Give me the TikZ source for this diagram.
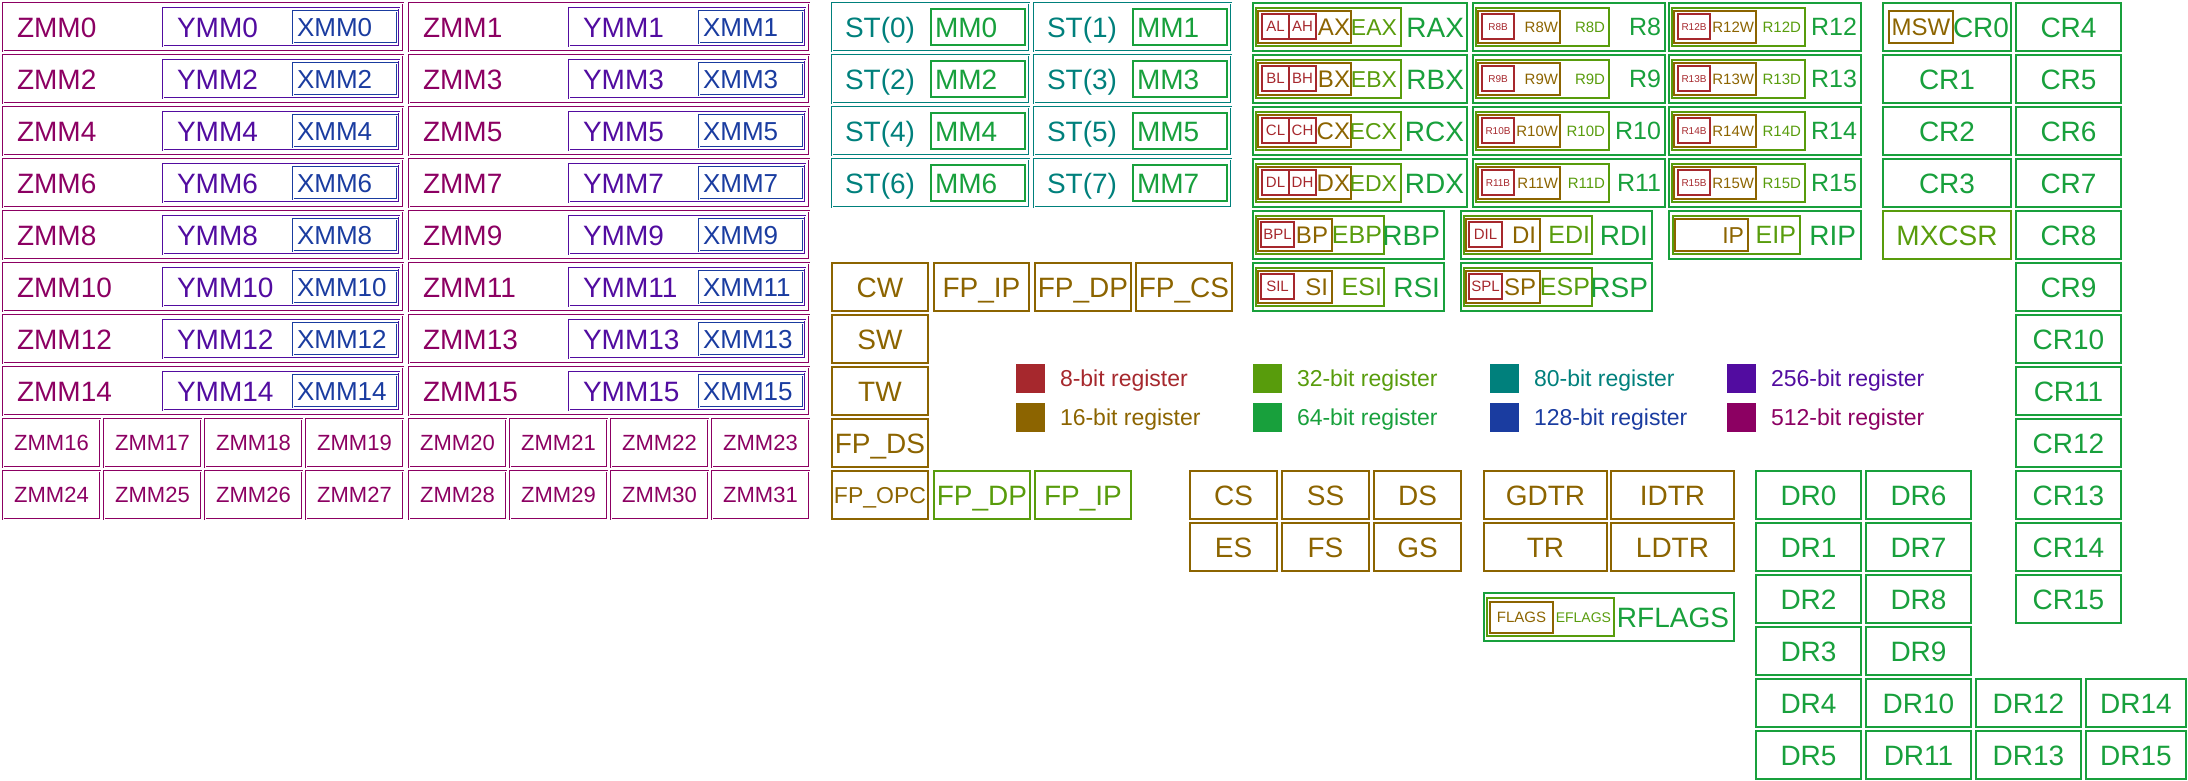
\documentclass[tikz,border=0pt]{standalone}
\usepackage{fontspec}
\setmainfont{Liberation Sans}
\definecolor{c8}{RGB}{166,40,45}
\definecolor{c16}{RGB}{140,100,0}
\definecolor{c32}{RGB}{88,156,12}
\definecolor{c64}{RGB}{24,160,60}
\definecolor{c80}{RGB}{0,128,124}
\definecolor{c128}{RGB}{26,60,160}
\definecolor{c256}{RGB}{82,12,160}
\definecolor{c512}{RGB}{140,0,98}
\newcommand\bx[7]{\node[rb,minimum width={(#4)-(#2)},minimum height={(#5)-(#3)},#6] (#1) at ({((#2)+(#4))/2},{((#3)+(#5))/2}) {#7};}
\begin{document}
\begin{tikzpicture}[x=1pt,y=-1pt,
  rb/.style={rectangle,draw,line width=1.4pt,inner sep=0pt,outer sep=0pt},
  dbl/.style={line width=1.05pt,double=white,double distance=0.8pt},
  lbl/.style={inner sep=0pt,outer sep=0pt},
  fz/.style={font={\fontsize{#1}{#1}\selectfont},text height={0.716*#1},text depth=0pt},
  rc/.style={draw=#1,text=#1},
  tc/.style={text=#1}]
\useasboundingbox (0,0) rectangle (2188,780);
% ---------------- ZMM / YMM / XMM
\foreach \i in {0,...,15}{
  \pgfmathtruncatemacro\cl{mod(\i,2)}
  \pgfmathtruncatemacro\rw{int(\i/2)}
  \pgfmathsetmacro\xa{3+406*\cl}
  \pgfmathsetmacro\ya{3+52*\rw}
  \pgfmathsetmacro\yc{27+52*\rw}
  \bx{zmm\i}{\xa}{\ya}{\xa+400}{\ya+48}{rc=c512,dbl}{}
  \bx{ymm\i}{\xa+160}{\ya+5}{\xa+396}{\ya+43}{rc=c256,dbl}{}
  \bx{xmm\i}{\xa+290}{\ya+8}{\xa+394}{\ya+40}{rc=c128,dbl}{}
  \node[lbl,fz=28,tc=c512,anchor=west] (zmmt\i) at ({\xa+14},\yc) {ZMM\i};
  \node[lbl,fz=28,tc=c256,anchor=west] (ymmt\i) at ({\xa+174},\yc) {YMM\i};
  \node[lbl,fz=26,tc=c128,anchor=west] (xmmt\i) at ({\xa+294},\yc) {XMM\i};
}
\foreach \i in {16,...,31}{
  \pgfmathtruncatemacro\kk{\i-16}
  \pgfmathtruncatemacro\rw{8+int(\kk/8)}
  \pgfmathtruncatemacro\cc{mod(\kk,8)}
  \pgfmathsetmacro\xa{3+406*int(\cc/4)+101*mod(\cc,4)}
  \pgfmathsetmacro\ya{3+52*\rw}
  \bx{zmm\i}{\xa}{\ya}{\xa+97}{\ya+48}{rc=c512,dbl,fz=22}{ZMM\i}
}
% ---------------- ST / MM
\foreach \j in {0,...,7}{
  \pgfmathtruncatemacro\cl{mod(\j,2)}
  \pgfmathtruncatemacro\rw{int(\j/2)}
  \pgfmathsetmacro\xa{832+202*\cl}
  \pgfmathsetmacro\ya{3+52*\rw}
  \pgfmathsetmacro\yc{27+52*\rw}
  \bx{st\j}{\xa}{\ya}{\xa+197}{\ya+48}{rc=c80,dbl}{}
  \bx{mm\j}{\xa+99}{\ya+6}{\xa+193}{\ya+42}{rc=c64,line width=1.2pt}{}
  \node[lbl,fz=28,tc=c80,anchor=west] (stt\j) at ({\xa+13},\yc) {ST(\j)};
  \node[lbl,fz=28,tc=c64,anchor=west] (mmt\j) at ({\xa+103},\yc) {MM\j};
}
% ---------------- legacy GPRs
\foreach \ltr [count=\rw from 0] in {A,B,C,D}{
  \pgfmathsetmacro\ya{3+52*\rw}
  \pgfmathsetmacro\yc{27+52*\rw}
  \bx{r\ltr x}{1253}{\ya}{1467}{\ya+48}{rc=c64}{}
  \bx{e\ltr x}{1256}{\ya+5}{1401}{\ya+43}{rc=c32}{}
  \bx{w\ltr x}{1258}{\ya+8}{1351}{\ya+40}{rc=c16}{}
  \bx{\ltr l}{1262}{\ya+11}{1289}{\ya+36}{rc=c8,fz=15}{\ltr L}
  \bx{\ltr h}{1289}{\ya+11}{1316}{\ya+36}{rc=c8,fz=15}{\ltr H}
  \node[lbl,fz=24,tc=c16,anchor=east] (w\ltr xt) at (1350,\yc) {\ltr X};
  \node[lbl,fz=23,tc=c32,anchor=east] (e\ltr xt) at (1397,\yc) {E\ltr X};
  \node[lbl,fz=28,tc=c64,anchor=east] (r\ltr xt) at (1464,\yc) {R\ltr X};
}
% ---------------- R8 - R15
\foreach \n in {8,...,15}{
  \pgfmathtruncatemacro\rw{mod(\n,4)}
  \pgfmathsetmacro\xo{\n>11 ? 196 : 0}
  \pgfmathsetmacro\ya{3+52*\rw}
  \pgfmathsetmacro\yc{27+52*\rw}
  \bx{r\n}{1473+\xo}{\ya}{1665+\xo}{\ya+48}{rc=c64}{}
  \bx{r\n d}{1476+\xo}{\ya+5}{1609+\xo}{\ya+43}{rc=c32}{}
  \bx{r\n w}{1478+\xo}{\ya+8}{1560+\xo}{\ya+40}{rc=c16}{}
  \bx{r\n b}{1482+\xo}{\ya+11}{1514+\xo}{\ya+36}{rc=c8,fz=10}{R\n B}
  \node[lbl,fz=15,tc=c16,anchor=east] (r\n wt) at ({1558+\xo},\yc) {R\n W};
  \node[lbl,fz=15,tc=c32,anchor=east] (r\n dt) at ({1605+\xo},\yc) {R\n D};
  \node[lbl,fz=25,tc=c64,anchor=east] (r\n t) at ({1661+\xo},\yc) {R\n};
}
% ---------------- pointer registers
\foreach \rw/\xo/\lo/\wo/\eo/\qo in {4/0/BPL/BP/EBP/RBP,5/0/SIL/SI/ESI/RSI,4/208/DIL/DI/EDI/RDI,5/208/SPL/SP/ESP/RSP}{
  \pgfmathsetmacro\ya{3+52*\rw}
  \pgfmathsetmacro\yc{27+52*\rw}
  \bx{\qo}{1253+\xo}{\ya}{1444+\xo}{\ya+48}{rc=c64}{}
  \bx{\eo}{1256+\xo}{\ya+5}{1384+\xo}{\ya+43}{rc=c32}{}
  \bx{\wo}{1258+\xo}{\ya+8}{1332+\xo}{\ya+40}{rc=c16}{}
  \bx{\lo}{1261+\xo}{\ya+11}{1294+\xo}{\ya+36}{rc=c8,fz=15}{\lo}
  \node[lbl,fz=24,tc=c16,anchor=east] (\wo t) at ({1328+\xo},\yc) {\wo};
  \node[lbl,fz=25,tc=c32,anchor=east] (\eo t) at ({1382+\xo},\yc) {\eo};
  \node[lbl,fz=28,tc=c64,anchor=east] (\qo t) at ({1440+\xo},\yc) {\qo};
}
% RIP
\bx{rip}{1669}{211}{1861}{259}{rc=c64}{}
\bx{eip}{1673}{216}{1800}{254}{rc=c32}{}
\bx{ip}{1675}{219}{1748}{251}{rc=c16}{}
\node[lbl,fz=23,tc=c16,anchor=east] (ipt) at (1744,235) {IP};
\node[lbl,fz=25,tc=c32,anchor=east] (eipt) at (1796,235) {EIP};
\node[lbl,fz=28,tc=c64,anchor=east] (ript) at (1856,235) {RIP};
% ---------------- control registers
\bx{cr0}{1883}{3}{2011}{51}{rc=c64}{}
\bx{msw}{1889}{11}{1953}{43}{rc=c16,fz=24}{MSW}
\node[lbl,fz=28,tc=c64,anchor=east] (cr0t) at (2009,27) {CR0};
\foreach \n in {1,2,3}{
  \bx{cr\n}{1883}{3+52*\n}{2011}{51+52*\n}{rc=c64,fz=28}{CR\n}
}
\bx{mxcsr}{1883}{211}{2011}{259}{rc=c32,fz=28}{MXCSR}
\foreach \n in {4,...,15}{
  \bx{cr\n}{2016}{3+52*(\n-4)}{2121}{51+52*(\n-4)}{rc=c64,fz=28}{CR\n}
}
% ---------------- debug registers
\foreach \n/\cx/\rw in {0/0/9,1/0/10,2/0/11,3/0/12,4/0/13,5/0/14,6/1/9,7/1/10,8/1/11,9/1/12,10/1/13,11/1/14,12/2/13,13/2/14,14/3/13,15/3/14}{
  \pgfmathsetmacro\xa{1756+110*\cx}
  \pgfmathsetmacro\xb{min(\xa+105,2186)}
  \bx{dr\n}{\xa}{3+52*\rw}{\xb}{51+52*\rw}{rc=c64,fz=28}{DR\n}
}
% ---------------- FPU
\bx{cw}{832}{263}{928}{311}{rc=c16,fz=28}{CW}
\bx{fpip}{934}{263}{1029}{311}{rc=c16,fz=28}{FP\_IP}
\bx{fpdp}{1035}{263}{1131}{311}{rc=c16,fz=28}{FP\_DP}
\bx{fpcs}{1136}{263}{1232}{311}{rc=c16,fz=28}{FP\_CS}
\bx{sw}{832}{315}{928}{363}{rc=c16,fz=28}{SW}
\bx{tw}{832}{367}{928}{415}{rc=c16,fz=28}{TW}
\bx{fpds}{832}{419}{928}{467}{rc=c16,fz=28}{FP\_DS}
\bx{fpopc}{832}{471}{928}{519}{rc=c16,fz=23}{FP\_OPC}
\bx{fpdpb}{934}{471}{1030}{519}{rc=c32,fz=28}{FP\_DP}
\bx{fpipb}{1035}{471}{1131}{519}{rc=c32,fz=28}{FP\_IP}
% ---------------- segment and table registers
\foreach \s/\sx/\rw in {CS/1190/9,SS/1282/9,DS/1374/9,ES/1190/10,FS/1282/10,GS/1374/10}{
  \bx{\s}{\sx}{3+52*\rw}{\sx+87}{51+52*\rw}{rc=c16,fz=28}{\s}
}
\foreach \s/\sx/\rw in {GDTR/1484/9,IDTR/1611/9,TR/1484/10,LDTR/1611/10}{
  \bx{\s}{\sx}{3+52*\rw}{\sx+123}{51+52*\rw}{rc=c16,fz=28}{\s}
}
% RFLAGS
\bx{rflags}{1484}{593}{1734}{641}{rc=c64}{}
\bx{eflags}{1487}{598}{1614}{636}{rc=c32}{}
\bx{flags}{1490}{602}{1553}{633}{rc=c16,fz=15}{FLAGS}
\node[lbl,fz=14,tc=c32,anchor=east] (eflagst) at (1611,617) {EFLAGS};
\node[lbl,fz=28,tc=c64,anchor=east] (rflagst) at (1729,617) {RFLAGS};
% ---------------- legend
\foreach \i/\ca/\cb/\ta/\tb in {0/c8/c16/8/16,1/c32/c64/32/64,2/c80/c128/80/128,3/c256/c512/256/512}{
  \pgfmathsetmacro\xa{1016+237*\i}
  \node[rectangle,fill=\ca,minimum size=29pt,inner sep=0pt,outer sep=0pt,anchor=north west] (lg\ta) at (\xa,364) {};
  \node[rectangle,fill=\cb,minimum size=29pt,inner sep=0pt,outer sep=0pt,anchor=north west] (lg\tb) at (\xa,403) {};
  \node[lbl,fz=23,tc=\ca,anchor=west] (lgt\ta) at ({\xa+44},378.5) {\ta-bit register};
  \node[lbl,fz=23,tc=\cb,anchor=west] (lgt\tb) at ({\xa+44},417.5) {\tb-bit register};
}
\end{tikzpicture}
\end{document}
